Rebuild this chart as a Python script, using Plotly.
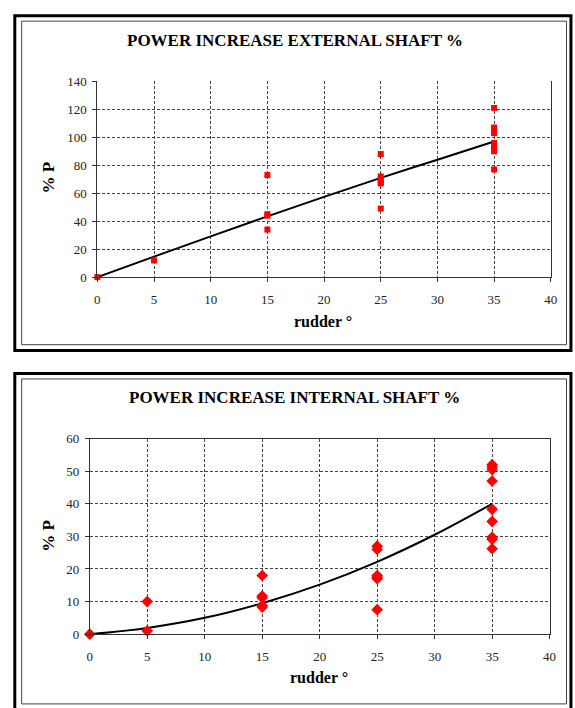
import plotly.graph_objects as go

# Rudder angle (deg) for the measured points
ext_rudder = [0, 5, 15, 15, 15, 15, 25, 25, 25, 25, 25, 25,
              35, 35, 35, 35, 35, 35, 35, 35, 35]
# Power increase on external shaft (%)
ext_power = [0, 12, 73, 45, 44, 34, 88, 72, 70, 68, 67, 49,
             121, 107, 105, 103, 96, 94, 92, 90, 77]

int_rudder = [0, 5, 5, 15, 15, 15, 15, 15, 25, 25, 25, 25, 25, 25,
              35, 35, 35, 35, 35, 35, 35, 35, 35]
# Power increase on internal shaft (%)
int_power = [0, 10, 1, 18, 11.7, 11.2, 8.8, 8.3, 27, 26, 18, 17.5, 17, 7.5,
             52, 51.3, 50.5, 47, 38.3, 34.6, 29.7, 29.1, 26.2]

# Trend curves
trend_rudder = [0, 5, 10, 15, 20, 25, 30, 35]
ext_trend = [0, 14.7, 29.2, 43.5, 57.4, 71, 84, 97]
int_trend = [0, 1.9, 5.0, 9.5, 15.2, 22.2, 30.5, 40.0]

x_ticks = [0, 5, 10, 15, 20, 25, 30, 35, 40]

W, H = 575, 708
SERIF = "Liberation Serif, Times New Roman, serif"
RED = "#ff0000"
GRID = "#444444"


def px_x(v):
    return v / W


def px_y(v):
    return 1 - v / H


fig = go.Figure()

fig.add_trace(go.Scatter(x=trend_rudder, y=ext_trend, mode="lines",
                         line=dict(color="black", width=2, shape="spline"),
                         xaxis="x", yaxis="y", showlegend=False))
fig.add_trace(go.Scatter(x=ext_rudder, y=ext_power, mode="markers",
                         marker=dict(symbol="square", size=6, color=RED),
                         xaxis="x", yaxis="y", showlegend=False, cliponaxis=False))

fig.add_trace(go.Scatter(x=trend_rudder, y=int_trend, mode="lines",
                         line=dict(color="black", width=2, shape="spline"),
                         xaxis="x2", yaxis="y2", showlegend=False))
fig.add_trace(go.Scatter(x=int_rudder, y=int_power, mode="markers",
                         marker=dict(symbol="diamond", size=9, color=RED),
                         xaxis="x2", yaxis="y2", showlegend=False, cliponaxis=False))

axis_common = dict(
    showgrid=True, gridcolor=GRID, gridwidth=1, griddash="3px,2px",
    zeroline=False, showline=True, linecolor="#333333", linewidth=1,
    ticks="outside", ticklen=4, tickcolor="#333333",
    tickfont=dict(family=SERIF, size=13, color="#222222"),
)

fig.update_layout(
    width=W, height=H,
    margin=dict(l=0, r=0, t=0, b=0),
    paper_bgcolor="white", plot_bgcolor="white",
    xaxis=dict(domain=[px_x(96), px_x(557.5)], range=[0, 40], tickvals=x_ticks,
               anchor="y", ticklabelstandoff=6, **axis_common),
    yaxis=dict(domain=[px_y(276), px_y(76)], range=[0, 140], dtick=20,
               anchor="x", mirror=True, ticklabelstandoff=3, **axis_common),
    xaxis2=dict(domain=[px_x(88.3), px_x(556.3)], range=[0, 40], tickvals=x_ticks,
                anchor="y2", mirror=True, ticklabelstandoff=6, **axis_common),
    yaxis2=dict(domain=[px_y(640.7), px_y(441)], range=[0, 60], dtick=10,
                anchor="x2", mirror=True, ticklabelstandoff=3, **axis_common),
)

# Frames around each chart
shapes = []
for top, bottom in [(9, 351), (374.5, 720)]:
    shapes.append(dict(type="rect", xref="paper", yref="paper",
                       x0=px_x(12), x1=px_x(578), y0=px_y(bottom), y1=px_y(top),
                       line=dict(color="black", width=3)))
for top, bottom in [(14.5, 345), (380, 712)]:
    shapes.append(dict(type="rect", xref="paper", yref="paper",
                       x0=px_x(19), x1=px_x(573.5), y0=px_y(bottom), y1=px_y(top),
                       line=dict(color="#444444", width=1)))
fig.update_layout(shapes=shapes)

title_font = dict(family=SERIF, size=17, color="black")
label_font = dict(family=SERIF, size=16, color="black")

annotations = [
    dict(text="<b>POWER INCREASE EXTERNAL SHAFT %</b>", x=px_x(297), y=px_y(34),
         font=title_font),
    dict(text="<b>POWER INCREASE INTERNAL SHAFT %</b>", x=px_x(296.5), y=px_y(399),
         font=title_font),
    dict(text="<b>rudder °</b>", x=px_x(326), y=px_y(321), font=label_font),
    dict(text="<b>rudder °</b>", x=px_x(322), y=px_y(685), font=label_font),
    dict(text="<b>% P</b>", x=px_x(46), y=px_y(174), textangle=-90,
         font=dict(family=SERIF, size=17, color="black")),
    dict(text="<b>% P</b>", x=px_x(46), y=px_y(540), textangle=-90,
         font=dict(family=SERIF, size=17, color="black")),
]
for a in annotations:
    a.update(xref="paper", yref="paper", showarrow=False,
             xanchor="center", yanchor="middle")
fig.update_layout(annotations=annotations)

fig.write_html("out.html")
